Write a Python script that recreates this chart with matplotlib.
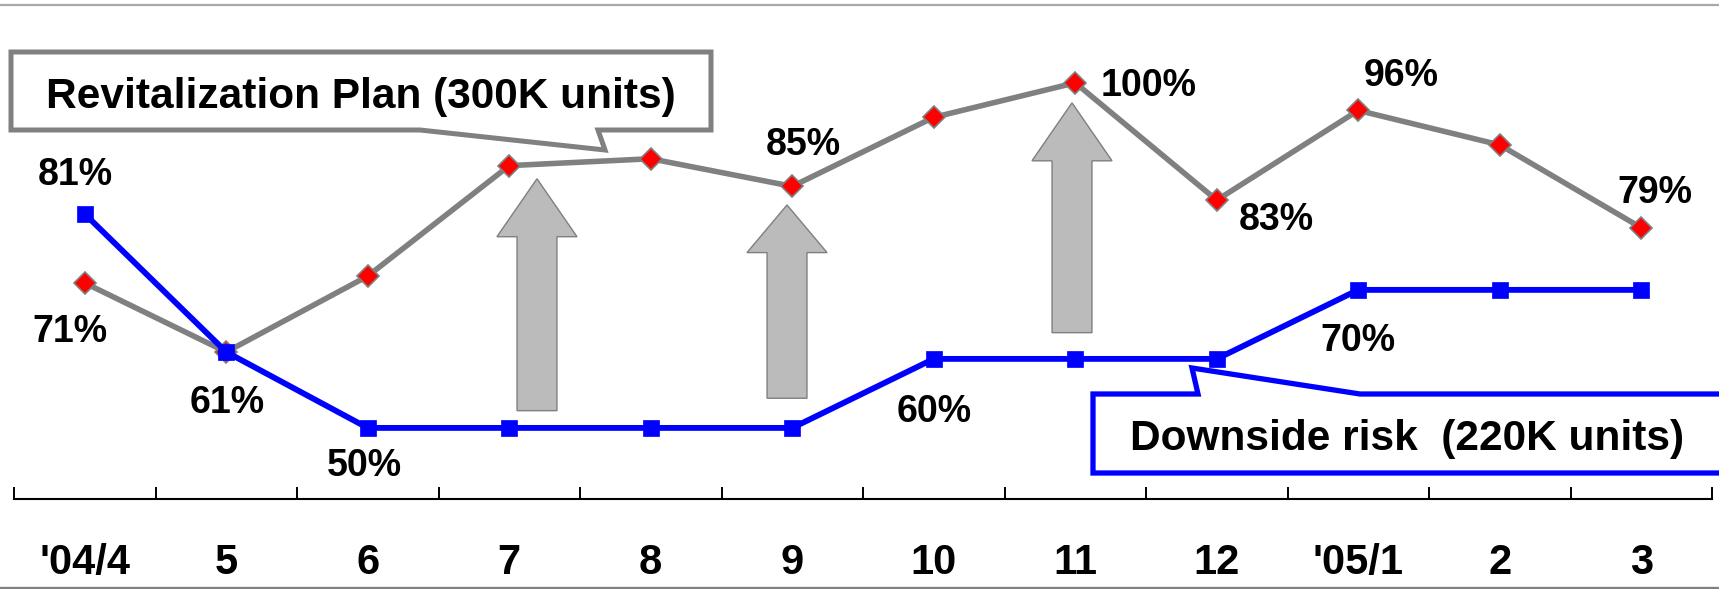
import matplotlib
matplotlib.use("Agg")
import matplotlib.pyplot as plt
from matplotlib.lines import Line2D
from matplotlib.patches import Polygon
from matplotlib.transforms import Affine2D

plt.rcParams['font.family'] = ['Liberation Sans', 'DejaVu Sans']
plt.rcParams['font.weight'] = 'bold'

# ---- data -------------------------------------------------------------
months = ["'04/4", "5", "6", "7", "8", "9", "10", "11", "12", "'05/1", "2", "3"]
plan_pct = [71, 61, 72, 88, 89, 85, 95, 100, 83, 96, 91, 79]        # Revitalization Plan
downside_pct = [81, 61, 50, 50, 50, 50, 60, 60, 60, 70, 70, 70]     # Downside risk
plan_labelled = [0, 5, 7, 8, 9, 11]
downside_labelled = [0, 1, 2, 6, 9]
plan_title = "Revitalization Plan (300K units)"
downside_title = "Downside risk  (220K units)"

# ---- figure -----------------------------------------------------------
W, H = 1719, 589
fig = plt.figure(figsize=(W / 100, H / 100), dpi=100)
ax = fig.add_axes([14 / W, 90 / H, 1698 / W, 499 / H])
ax.set_xlim(-0.5, len(months) - 0.5)
ax.set_ylim(39.7, 112.0)
ax.patch.set_visible(False)

# pixel-from-top coordinates for the slide furniture
px = Affine2D().scale(1 / W, -1 / H).translate(0, 1) + fig.transFigure

# slide rules at top and bottom
fig.add_artist(Line2D([0, 1], [1 - 5 / H] * 2, transform=fig.transFigure,
                      color='#a8a8a8', lw=1.6))
fig.add_artist(Line2D([0, 1], [1 - 587.5 / H] * 2, transform=fig.transFigure,
                      color='#808080', lw=2.4))

# block arrows: (x centre, bottom, head base, tip) in data units
arrows = [(3.196, 52.5, 77.7, 86.1), (4.963, 54.3, 75.4, 82.3), (6.977, 63.8, 88.7, 97.1)]
shaft_hw, head_hw = 0.141, 0.283
for xc, y0, yb, yt in arrows:
    pts = [(xc - shaft_hw, y0), (xc + shaft_hw, y0), (xc + shaft_hw, yb),
           (xc + head_hw, yb), (xc, yt), (xc - head_hw, yb), (xc - shaft_hw, yb)]
    ax.add_patch(Polygon(pts, closed=True, facecolor='#bbbbbb',
                         edgecolor='#7f7f7f', lw=1.0, zorder=1))

x = list(range(len(months)))
ax.plot(x, plan_pct, color='#808080', lw=4.0, marker='D', ms=11,
        markerfacecolor='#ff0000', markeredgecolor='#808080', mew=1.2,
        zorder=3, solid_joinstyle='miter')
ax.plot(x, downside_pct, color='#0000ff', lw=4.2, marker='s', ms=11,
        markerfacecolor='#0000ff', markeredgecolor='#0000ff', mew=0.5,
        zorder=4, solid_joinstyle='miter')

# value labels (offsets in pixels from the marker)
plan_offsets = {0: (-15, -46), 5: (11, 44), 7: (73, 0), 8: (60, -17),
                9: (43, 37), 11: (14, 38)}
down_offsets = {0: (-9, 42), 1: (1, -48), 2: (-3, -35), 6: (0, -50), 9: (0, -48)}
cap_half = 13
for i in plan_labelled:
    dx, dy = plan_offsets[i]
    ax.annotate(f"{plan_pct[i]}%", (i, plan_pct[i]), xytext=(dx, dy - cap_half),
                textcoords='offset pixels', ha='center', va='baseline',
                fontsize=27, fontweight='bold', color='black', zorder=6)
for i in downside_labelled:
    dx, dy = down_offsets[i]
    ax.annotate(f"{downside_pct[i]}%", (i, downside_pct[i]), xytext=(dx, dy - cap_half),
                textcoords='offset pixels', ha='center', va='baseline',
                fontsize=27, fontweight='bold', color='black', zorder=6)

# callout boxes
plan_box = [(11, 52), (711, 52), (711, 130), (598, 130), (605, 150), (420, 130), (11, 130)]
fig.add_artist(Polygon(plan_box, closed=True, transform=px, facecolor='white',
                       edgecolor='#808080', lw=3.6, joinstyle='miter', zorder=5))
fig.text(361, 108, plan_title, transform=px, ha='center', va='baseline',
         fontsize=30.5, fontweight='bold', zorder=7)

down_box = [(1093, 473), (1093, 394), (1198, 394), (1192, 368), (1360, 394),
            (1740, 394), (1740, 473)]
fig.add_artist(Polygon(down_box, closed=True, transform=px, facecolor='white',
                       edgecolor='#0000ff', lw=3.8, joinstyle='miter', zorder=5))
fig.text(1407, 450, downside_title, transform=px, ha='center', va='baseline',
         fontsize=30.5, fontweight='bold', zorder=7)

# axis: bottom spine with upward ticks between months
for s in ('top', 'left', 'right'):
    ax.spines[s].set_visible(False)
ax.spines['bottom'].set_linewidth(1.5)
ax.set_yticks([])
ax.set_xticks(x)
ax.set_xticklabels(months, fontsize=30, fontweight='bold')
ax.set_xticks([i - 0.5 for i in range(len(months) + 1)], minor=True)
ax.tick_params(axis='x', which='major', length=0, pad=32)
ax.tick_params(axis='x', which='minor', direction='in', length=8.6, width=1.4)

fig.savefig("out.png", dpi=100)
